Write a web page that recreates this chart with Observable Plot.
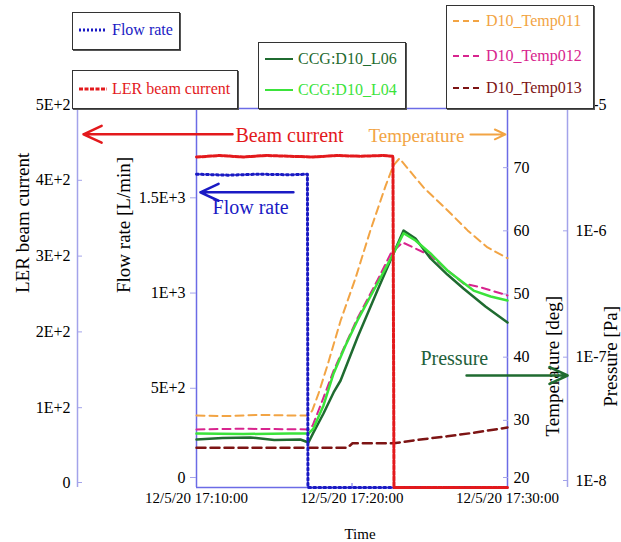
<!DOCTYPE html>
<html><head><meta charset="utf-8">
<script src="https://cdn.jsdelivr.net/npm/d3@7"></script>
<script src="https://cdn.jsdelivr.net/npm/@observablehq/plot@0.6"></script>
<style>
body{margin:0;background:#fff;font-family:"Liberation Serif",serif;}
#wrap{position:relative;width:621px;height:542px;overflow:hidden;background:#fff;}
#wrap > svg{position:absolute;left:0;top:0;}
.lg{position:absolute;background:#fff;border:1px solid #333;box-shadow:1px 1px 0 #555;box-sizing:border-box;}
.row{position:absolute;white-space:nowrap;font-size:16px;line-height:18px;display:flex;align-items:center;}
.row svg{margin-right:4px;}
</style></head><body><div id="wrap"></div>
<script>
// ---------- data ----------
const timeTicks = ["17:10:00", "17:20:00", "17:30:00"];
const datePrefix = "12/5/20";

const beamTime = ["17:10:00","17:11:30","17:13:00","17:14:30","17:16:00","17:17:30","17:19:00","17:20:30","17:22:00","17:22:38","17:22:42","17:30:00"];
const beamCurrent = [436,438,436,438,437,436,438,437,438,437,0,0];

const flowTime = ["17:10:00","17:12:00","17:14:00","17:16:00","17:17:08","17:17:10","17:30:00"];
const flowRate = [1645,1640,1645,1642,1645,0,0];

const temp011Time = ["17:10:00","17:12:00","17:14:00","17:16:00","17:17:12","17:17:27","17:17:51","17:18:25","17:19:16","17:20:14","17:21:11","17:22:10","17:22:40","17:23:03","17:24:36","17:26:08","17:27:26","17:28:43","17:30:00"];
const temp011 = [31.4,31.3,31.5,31.4,31.4,32.2,34.9,39.3,46.4,53.2,60.7,67.8,71.0,72.1,67.5,63.9,60.7,58.0,56.3];

const temp012Time = ["17:10:00","17:13:00","17:17:12","17:17:28","17:18:06","17:18:49","17:20:21","17:21:38","17:22:29","17:23:15","17:23:57","17:25:03","17:26:08","17:27:10","17:28:16","17:30:00"];
const temp012 = [29.2,29.3,29.2,29.8,33.8,38.5,46.8,52.8,57.0,58.8,58.0,56.7,54.4,52.3,51.7,50.4];

const temp013Time = ["17:10:00","17:19:43","17:20:02","17:22:40","17:24:25","17:26:08","17:27:56","17:30:00"];
const temp013 = [26.3,26.3,27.0,27.0,27.6,28.1,28.7,29.5];

const l06Time = ["17:10:00","17:11:40","17:13:28","17:15:00","17:16:41","17:17:12","17:17:31","17:18:10","17:18:49","17:19:16","17:20:21","17:21:38","17:22:40","17:23:19","17:24:05","17:25:03","17:26:08","17:27:10","17:28:35","17:30:00"];
const l06 = [2.40e-8,2.46e-8,2.49e-8,2.38e-8,2.40e-8,2.27e-8,2.72e-8,3.85e-8,5.65e-8,7.03e-8,1.54e-7,3.62e-7,7.12e-7,1.08e-6,9.35e-7,6.50e-7,4.85e-7,3.76e-7,2.71e-7,2.02e-7];

const l04Time = ["17:10:00","17:13:00","17:16:00","17:17:12","17:17:31","17:18:10","17:18:49","17:19:35","17:20:21","17:21:38","17:22:40","17:23:19","17:24:05","17:25:03","17:26:08","17:27:49","17:28:55","17:30:00"];
const l04 = [2.67e-8,2.65e-8,2.68e-8,2.67e-8,2.93e-8,4.46e-8,7.99e-8,1.33e-7,2.10e-7,4.12e-7,7.12e-7,1.03e-6,9.02e-7,7.12e-7,5.22e-7,3.62e-7,3.25e-7,3.02e-7];

// axis ticks / labels
const lerTicks = [0,100,200,300,400,500];
const lerTickLabels = ["0","1E+2","2E+2","3E+2","4E+2","5E+2"];
const flowTicks = [0,500,1000,1500];
const flowTickLabels = ["0","5E+2","1E+3","1.5E+3"];
const tempTicks = [20,30,40,50,60,70];
const tempTickLabels = ["20","30","40","50","60","70"];
const presTicks = [1e-8,1e-7,1e-6,1e-5];
const presTickLabels = ["1E-8","1E-7","1E-6","1E-5"];

// annotations (time, value on the axis they refer to)
const beamNote = {text:"Beam current", t:"17:12:30", v:464, a1:"17:12:19", a2:"17:02:44", av:466};
const tempNote = {text:"Temperature", t:"17:21:04", v:75.7, a1:"17:27:37", a2:"17:29:52", av:75.9};
const flowNote = {text:"Flow rate", t:"17:11:02", v:1468, a1:"17:16:14", a2:"17:10:15", av:1550};
const presNote = {text:"Pressure", t:"17:24:24", v:1.05e-7, a1:"17:27:22", a2:"17:33:52", av:7.7e-8};

// ---------- colours ----------
const C = {
  beam:"#e3191c", flow:"#1a1ac4", t011:"#f2a444", t012:"#d8248e", t013:"#7d1414",
  l06:"#1f6b30", l04:"#3be33b", frame:"#6b6be6", axis:"#a3a3ea", presText:"#22603a"
};

// ---------- scales ----------
const T = s => new Date(`2012-05-20T${s}Z`);
const lerToT = d3.scaleLinear([0,500],[20,80]);
const flowToT = d3.scaleLinear([0,1990],[20,80]);
const presToT = d3.scaleLog([1e-8,1e-5],[20,80]);
const xDomain = [T(timeTicks[0]), T(timeTicks[2])];

const rows = (times, vals, f) => times.map((t,i)=>({t:T(t), y:f(vals[i])}));
const id = v => v;

const beamRows = rows(beamTime, beamCurrent, lerToT);
const flowRows = rows(flowTime, flowRate, flowToT);
const t011Rows = rows(temp011Time, temp011, id);
const t012Rows = rows(temp012Time, temp012, id);
const t013Rows = rows(temp013Time, temp013, id);
const l06Rows = rows(l06Time, l06, presToT);
const l04Rows = rows(l04Time, l04, presToT);

const line = (data, stroke, w, dash) => Plot.line(data, {x:"t", y:"y", stroke, strokeWidth:w, strokeDasharray:dash, strokeLinejoin:"round"});
const note = (n, f, color, size) => Plot.text([n], {x:d=>T(d.t), y:d=>f(d.v), text:"text", fill:color, fontSize:size, textAnchor:"start"});
const arrow = (n, f, color, w) => Plot.arrow([n], {x1:d=>T(d.a1), x2:d=>T(d.a2), y1:d=>f(d.av), y2:d=>f(d.av), stroke:color, strokeWidth:w, headLength:12, headAngle:50});

// axis helper: ticks split so the bottom label sits a little higher (as in the reference)
function yAxis(ticks, labels, f, opts, bottomDy) {
  const idx = ticks.map((_,i)=>i);
  const upper = idx.filter(i => i > 0), lower = [0];
  const mk = (sel, dy) => Plot.axisY(sel.map(i => f(ticks[i])), {...opts, dy, stroke:C.axis, fill:"black", label:null, tickFormat:(d,j)=>labels[sel[j]]});
  return [mk(upper, -4), mk(lower, bottomDy)];
}

const chart = Plot.plot({
  width:621, height:542,
  marginLeft:196, marginRight:114, marginTop:108, marginBottom:55,
  style:{fontFamily:"'Liberation Serif', serif", fontSize:"16px", background:"white", color:"black", overflow:"visible"},
  x:{type:"utc", domain:xDomain, axis:null},
  y:{domain:[20,80], axis:null},
  marks:[
    // axis lines & frame
    Plot.ruleX([xDomain[0]], {stroke:C.axis, strokeWidth:1.5, dx:-119}),
    Plot.ruleX([xDomain[1]], {stroke:C.axis, strokeWidth:1.5, dx:60}),
    Plot.ruleX([xDomain[0]], {stroke:C.frame, strokeWidth:1.5}),
    Plot.ruleX([xDomain[1]], {stroke:C.frame, strokeWidth:1.5}),
    Plot.ruleY([80], {stroke:C.frame, strokeWidth:1.5, insetLeft:-124, insetRight:-60}),
    Plot.ruleY([20], {stroke:C.frame, strokeWidth:1.5}),
    // axes
    ...yAxis(lerTicks, lerTickLabels, lerToT, {anchor:"left", dx:-119, tickSize:-5, tickPadding:12}, -5),
    ...yAxis(flowTicks, flowTickLabels, flowToT, {anchor:"left", tickSize:6, tickPadding:5}, -10),
    ...yAxis(tempTicks, tempTickLabels, id, {anchor:"right", tickSize:-5, tickPadding:11}, -10),
    ...yAxis(presTicks, presTickLabels, presToT, {anchor:"right", dx:60, tickSize:-5, tickPadding:13}, -7),
    Plot.axisX(timeTicks.map(T), {anchor:"bottom", tickSize:-4, tickPadding:9, stroke:C.frame, fill:"black", fontSize:15, tickFormat:(d,i)=>`${datePrefix} ${timeTicks[i]}`, label:null}),
    // axis titles
    Plot.text(["LER beam current"], {frameAnchor:"left", dx:-174, dy:-5, rotate:-90, fontSize:19}),
    Plot.text(["Flow rate [L/min]"], {frameAnchor:"left", dx:-73, dy:-5, rotate:-90, fontSize:19}),
    Plot.text(["Temperature [deg]"], {frameAnchor:"right", dx:45, dy:-2, rotate:-90, fontSize:19}),
    Plot.text(["Pressure [Pa]"], {frameAnchor:"right", dx:103, dy:8, rotate:-90, fontSize:19}),
    Plot.text(["Time"], {frameAnchor:"bottom", dx:8, dy:51, fontSize:15}),
    // data
    line(t013Rows, C.t013, 2.5, "9,5"),
    line(t011Rows, C.t011, 2, "8,5"),
    line(t012Rows, C.t012, 2, "8,5"),
    line(l06Rows, C.l06, 2.5),
    line(l04Rows, C.l04, 2.5),
    line(flowRows, C.flow, 3, "2,3"),
    line(beamRows, C.beam, 3, "4,1.5"),
    // annotations
    arrow(beamNote, lerToT, C.beam, 2.5),
    note(beamNote, lerToT, C.beam, 20),
    arrow(tempNote, id, C.t011, 2),
    note(tempNote, id, C.t011, 19),
    arrow(flowNote, flowToT, C.flow, 2.5),
    note(flowNote, flowToT, C.flow, 20),
    arrow(presNote, presToT, C.l06, 2.5),
    note(presNote, presToT, C.presText, 20)
  ]
});
const wrap = document.getElementById("wrap");
wrap.appendChild(chart);

// ---------- legend boxes ----------
const legends = [
  {left:72, top:12, w:108, h:38, items:[{label:"Flow rate", color:C.flow, dash:"2,2", w:3, y:17}]},
  {left:72, top:70, w:166, h:39, items:[{label:"LER beam current", color:C.beam, dash:"4,1.5", w:3, y:18}]},
  {left:258, top:42, w:148, h:67, items:[
    {label:"CCG:D10_L06", color:C.l06, dash:null, w:2, y:16},
    {label:"CCG:D10_L04", color:C.l04, dash:null, w:2, y:47}]},
  {left:446, top:5, w:148, h:104, items:[
    {label:"D10_Temp011", color:C.t011, dash:"6,4", w:2, y:15},
    {label:"D10_Temp012", color:C.t012, dash:"6,4", w:2, y:50},
    {label:"D10_Temp013", color:C.t013, dash:"6,4", w:2, y:82}]}
];
for (const lg of legends) {
  const box = document.createElement("div");
  box.className = "lg";
  Object.assign(box.style, {left:lg.left+"px", top:lg.top+"px", width:lg.w+"px", height:lg.h+"px"});
  for (const it of lg.items) {
    const row = document.createElement("div");
    row.className = "row";
    Object.assign(row.style, {left:"5px", top:(it.y-9)+"px", color:it.color});
    row.innerHTML = `<svg width="30" height="6"><line x1="1" y1="3" x2="29" y2="3" stroke="${it.color}" stroke-width="${it.w}" ${it.dash?`stroke-dasharray="${it.dash}"`:""}/></svg><span>${it.label}</span>`;
    box.appendChild(row);
  }
  wrap.appendChild(box);
}
</script></body></html>
